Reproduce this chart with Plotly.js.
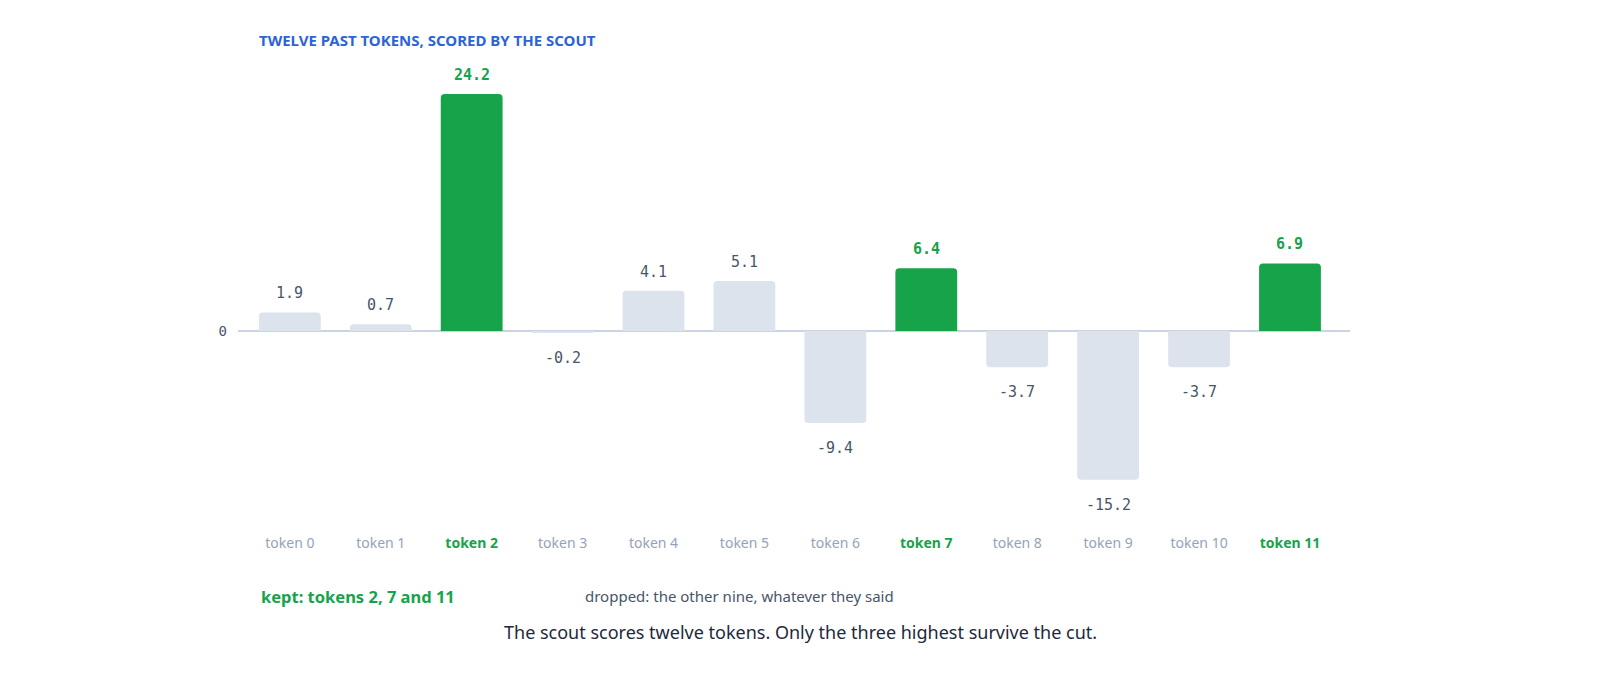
<!DOCTYPE html>
<html>
<head>
<meta charset="utf-8">
<script src="https://cdn.plot.ly/plotly-3.0.1.min.js"></script>
<style>html,body{margin:0;padding:0;background:#fff;}#chart{width:1600px;height:686px;}</style>
</head>
<body>
<div id="chart"></div>
<script>
const tokens = ["token 0","token 1","token 2","token 3","token 4","token 5","token 6","token 7","token 8","token 9","token 10","token 11"];
const scores = [1.9, 0.7, 24.2, -0.2, 4.1, 5.1, -9.4, 6.4, -3.7, -15.2, -3.7, 6.9];
const kept = [false, false, true, false, false, false, false, true, false, false, false, true];
const titleText = "TWELVE PAST TOKENS, SCORED BY THE SCOUT";
const keptText = "kept: tokens 2, 7 and 11";
const droppedText = "dropped: the other nine, whatever they said";
const captionText = "The scout scores twelve tokens. Only the three highest survive the cut.";

const GREEN = "#17a34a";
const GREY_BAR = "#dce3ed";
const LABEL_GREY = "#475569";
const TICK_GREY = "#94a3b8";
const MONO = "DejaVu Sans Mono, monospace";
const SANS = "Noto Sans, Open Sans, sans-serif";

const xIdx = tokens.map((_, i) => i);

const trace = {
  type: "bar",
  x: xIdx,
  y: scores,
  marker: { color: kept.map(k => k ? GREEN : GREY_BAR), cornerradius: 4, line: { width: 0 } },
  width: 0.68,
  hoverinfo: "skip"
};

const ticktext = tokens.map((t, i) => kept[i]
  ? `<b><span style="color:${GREEN}">${t}</span></b>`
  : t);

const annotations = scores.map((v, i) => ({
  x: i, y: v, xref: "x", yref: "y",
  text: kept[i] ? `<b>${v.toFixed(1)}</b>` : v.toFixed(1),
  showarrow: false,
  yanchor: v >= 0 ? "bottom" : "top",
  yshift: v >= 0 ? 8 : -14,
  font: { family: MONO, size: 15, color: kept[i] ? GREEN : LABEL_GREY }
}));

const PL = 238, PR = 1350, PT = 55, PB = 528;
const px = x => (x - PL) / (PR - PL);
const py = y => (PB - y) / (PB - PT);

annotations.push(
  { xref: "paper", yref: "paper", x: px(259), y: py(596), xanchor: "left", yanchor: "middle",
    text: `<b>${keptText}</b>`, showarrow: false, font: { family: SANS, size: 16.5, color: GREEN } },
  { xref: "paper", yref: "paper", x: px(583), y: py(596), xanchor: "left", yanchor: "middle",
    text: droppedText, showarrow: false, font: { family: SANS, size: 15, color: "#475569" } },
  { xref: "paper", yref: "paper", x: px(800), y: py(632), xanchor: "center", yanchor: "middle",
    text: captionText, showarrow: false, font: { family: SANS, size: 18, color: "#1e293b" } }
);

const layout = {
  width: 1600, height: 686,
  margin: { l: PL, r: 1600 - PR, t: PT, b: 686 - PB },
  paper_bgcolor: "#ffffff", plot_bgcolor: "#ffffff",
  showlegend: false,
  title: {
    text: `<b>${titleText}</b>`,
    x: 259 / 1600, xanchor: "left", xref: "container",
    y: 1 - 41 / 686, yanchor: "middle", yref: "container",
    font: { family: SANS, size: 15, color: "#2b63d9" }
  },
  xaxis: {
    range: [-0.57, 11.66],
    tickvals: xIdx, ticktext: ticktext,
    showgrid: false, zeroline: false, showline: false, ticks: "",
    ticklabelstandoff: 5,
    tickfont: { family: SANS, size: 14, color: TICK_GREY },
    fixedrange: true
  },
  yaxis: {
    range: [-20.12, 28.19],
    tickvals: [0], ticktext: ["0"],
    showgrid: false, zeroline: true, zerolinecolor: "#cbd5e1", zerolinewidth: 1.5,
    showline: false, ticks: "",
    ticklabelstandoff: 10,
    tickfont: { family: MONO, size: 14, color: LABEL_GREY },
    fixedrange: true
  },
  annotations: annotations
};

Plotly.newPlot("chart", [trace], layout, { displayModeBar: false, staticPlot: true });
</script>
</body>
</html>
